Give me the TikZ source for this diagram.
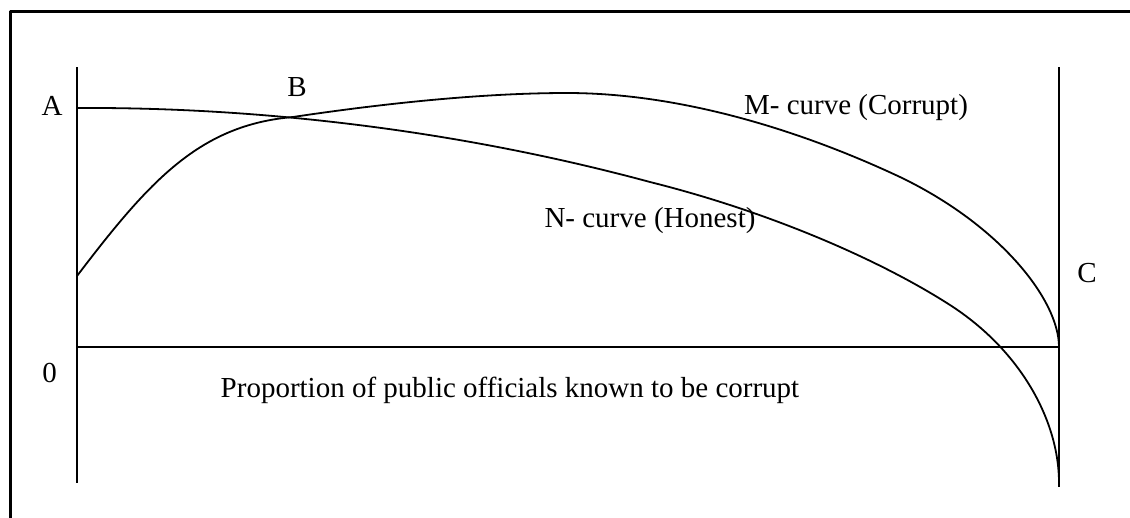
\documentclass[tikz,border=0pt]{standalone}
\usepackage{fontspec}
\setmainfont{Liberation Serif}
\begin{document}
\begin{tikzpicture}[x=1pt,y=-1pt,line join=round,
  axis/.style={line width=2pt},
  curve/.style={line width=1.8pt},
  lbl/.style={font=\fontsize{29}{34}\selectfont,inner sep=0pt,anchor=base}]
\useasboundingbox (0,0) rectangle (1130,517);
\fill[white] (0,0) rectangle (1130,517);
% outer frame
\draw[line width=3pt] (10,11) rectangle (1145,530);
% axes
\coordinate (ltop) at (77,67);
\coordinate (lbot) at (77,483);
\coordinate (O) at (77,347);
\coordinate (E) at (1059,347);
\coordinate (rtop) at (1059,67);
\coordinate (rbot) at (1059,487);
\draw[axis] (ltop) -- (lbot);
\draw[axis] (rtop) -- (rbot);
\draw[axis] (O) -- (E);
% curve end points
\coordinate (Mstart) at (77,276);
\coordinate (Bpt) at (293,117);
\coordinate (Mpeak) at (567,93);
\coordinate (Mmid) at (900,177);
\coordinate (Apt) at (77,108);
\coordinate (Nmid) at (650,182);
\coordinate (Nlow) at (950,305);
\coordinate (Nend) at (1059,483);
% M-curve (corrupt)
\draw[curve] (Mstart) .. controls (150,180) and (200,125) .. (Bpt)
  .. controls (380,104) and (480,93) .. (Mpeak)
  .. controls (680,93) and (800,130) .. (Mmid)
  .. controls (1000,225) and (1059,300) .. (E);
% N-curve (honest)
\draw[curve] (Apt) .. controls (250,107) and (450,128) .. (Nmid)
  .. controls (770,212) and (880,260) .. (Nlow)
  .. controls (1020,350) and (1059,420) .. (Nend);
% labels
\node[lbl] (A) at (52,115) {A};
\node[lbl] (B) at (297,96) {B};
\node[lbl] (Clbl) at (1087,282) {C};
\node[lbl] (zero) at (49.5,382) {0};
\node[lbl] (Mlbl) at (856,114) {M- curve (Corrupt)};
\node[lbl] (Nlbl) at (650,227) {N- curve (Honest)};
\node[lbl] (xlbl) at (510,397) {Proportion of public officials known to be corrupt};
\end{tikzpicture}
\end{document}
